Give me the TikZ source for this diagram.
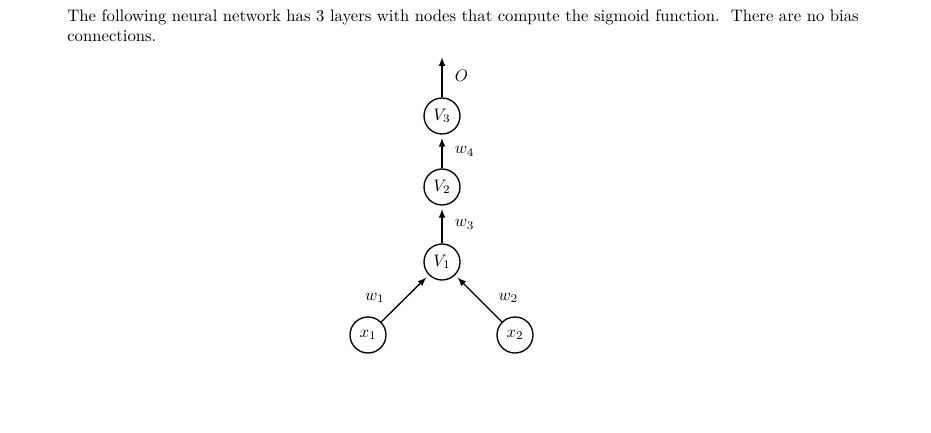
\documentclass[tikz,border=0pt]{standalone}
\usetikzlibrary{positioning}

\begin{document}
\begin{tikzpicture}[x=0.6pt,y=-0.6pt,
  neuron/.style={circle,draw,thick,minimum size=21.6pt,inner sep=0pt},
  conn/.style={->,>=latex,thick,shorten >=2pt}]

\useasboundingbox (0,0) rectangle (931,433);

\node[anchor=north west,align=left,inner sep=0pt] (intro) at (67,9)
  {The following neural network has 3 layers with nodes that compute the sigmoid function.\ \ There are no bias\\connections.};

\node[neuron] (V3) at (442,116) {$V_3$};
\node[neuron] (V2) at (442,187) {$V_2$};
\node[neuron] (V1) at (442,262) {$V_1$};
\node[neuron] (x1) at (368,335) {$x_1$};
\node[neuron] (x2) at (515,335) {$x_2$};
\coordinate (out) at (442,54);

\draw[conn] (V3) -- (out) node[midway,right=4pt] {$O$};
\draw[conn] (V2) -- (V3) node[midway,right=4pt] {$w_4$};
\draw[conn] (V1) -- (V2) node[midway,right=4pt] {$w_3$};
\draw[conn] (x1) -- (V1) node[pos=0.2,above left=2pt and 0pt] {$w_1$};
\draw[conn] (x2) -- (V1) node[pos=0.2,above right=2pt and 0pt] {$w_2$};

\end{tikzpicture}
\end{document}
